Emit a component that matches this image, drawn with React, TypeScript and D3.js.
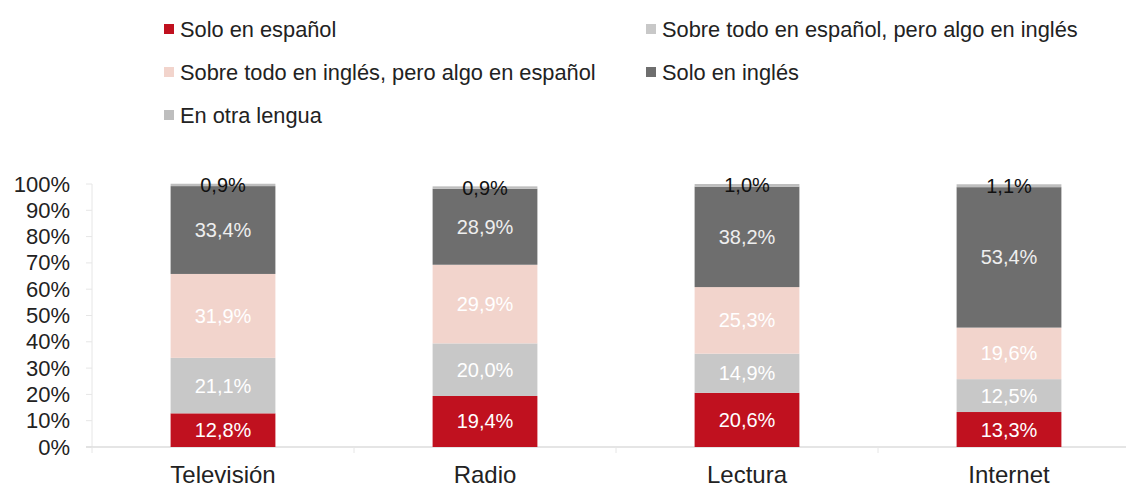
import * as d3 from "d3";

const categories = ["Televisión", "Radio", "Lectura", "Internet"];
const seriesNames = [
  "Solo en español",
  "Sobre todo en español, pero algo en inglés",
  "Sobre todo en inglés, pero algo en español",
  "Solo en inglés",
  "En otra lengua",
];
const soloEspanol = [12.8, 19.4, 20.6, 13.3];
const sobreEspanol = [21.1, 20.0, 14.9, 12.5];
const sobreIngles = [31.9, 29.9, 25.3, 19.6];
const soloIngles = [33.4, 28.9, 38.2, 53.4];
const otraLengua = [0.9, 0.9, 1.0, 1.1];
const yTicks = [0, 10, 20, 30, 40, 50, 60, 70, 80, 90, 100];

const colors = ["#C0111F", "#C8C8C8", "#F2D4CC", "#6E6E6E", "#BEBEBE"];
const labelColors = ["#fff", "#fff", "#fff", "#eee", "#111"];
const font = "'Liberation Sans', Arial, sans-serif";

// legend placement: [column x, row y] for each series
const legendCols = [164, 646];
const legendRows = [29, 72, 115];
const legendSlots = [
  [0, 0],
  [1, 0],
  [0, 1],
  [1, 1],
  [0, 2],
];

export default function App() {
  const width = 1126;
  const height = 487;
  const x0 = 92;
  const baseY = 447;

  const rows = categories.map((c, i) => ({
    cat: c,
    s0: soloEspanol[i],
    s1: sobreEspanol[i],
    s2: sobreIngles[i],
    s3: soloIngles[i],
    s4: otraLengua[i],
  }));
  const keys = ["s0", "s1", "s2", "s3", "s4"];
  const stacked = d3.stack<any>().keys(keys)(rows);

  const x = d3.scaleBand().domain(categories).range([x0, x0 + 262 * 4]).paddingInner(0.6).paddingOuter(0.3);
  const y = d3.scaleLinear().domain([0, 100]).range([baseY, 184]);

  const fmt = (v: number) => v.toFixed(1).replace(".", ",") + "%";

  return (
    <svg width={width} height={height} style={{ position: "absolute", left: 0, top: 0, background: "#fff" }} fontFamily={font}>
      {/* legend */}
      {seriesNames.map((name, i) => {
        const [c, r] = legendSlots[i];
        const lx = legendCols[c];
        const ly = legendRows[r];
        return (
          <g key={name}>
            <rect x={lx} y={ly - 5} width={10} height={10} fill={colors[i]} />
            <text x={lx + 16} y={ly} dominantBaseline="central" fontSize={21.8} fill="#222">
              {name}
            </text>
          </g>
        );
      })}

      {/* y axis */}
      <line x1={x0} x2={x0} y1={y(100)} y2={baseY} stroke="#e6e6e6" />
      {yTicks.map((t) => (
        <g key={t}>
          <line x1={x0 - 6} x2={x0} y1={y(t)} y2={y(t)} stroke="#e6e6e6" />
          <text x={70} y={y(t)} textAnchor="end" dominantBaseline="central" fontSize={22} fill="#222">
            {t}%
          </text>
        </g>
      ))}

      {/* baseline and category ticks */}
      <line x1={x0 - 6} x2={width} y1={baseY} y2={baseY} stroke="#dcdcdc" strokeWidth={1.5} />
      {categories.map((c) => {
        const step = x.step();
        const edge = (x(c) as number) - (step * x.paddingInner()) / 2;
        return <line key={c} x1={edge} x2={edge} y1={baseY} y2={baseY + 6} stroke="#e6e6e6" />;
      })}

      {/* bars */}
      {stacked.map((layer, si) => (
        <g key={si}>
          {layer.map((d) => {
            const cat = d.data.cat as string;
            const bx = x(cat) as number;
            const y1 = y(d[1]);
            const y0 = y(d[0]);
            return <rect key={cat} x={bx} y={y1} width={x.bandwidth()} height={y0 - y1} fill={colors[si]} />;
          })}
        </g>
      ))}

      {/* value labels */}
      {stacked.map((layer, si) => (
        <g key={"l" + si}>
          {layer.map((d) => {
            const cat = d.data.cat as string;
            const cx = (x(cat) as number) + x.bandwidth() / 2;
            const cy = y((d[0] + d[1]) / 2);
            return (
              <text key={cat} x={cx} y={cy} textAnchor="middle" dominantBaseline="central" fontSize={20} fill={labelColors[si]}>
                {fmt(d[1] - d[0])}
              </text>
            );
          })}
        </g>
      ))}

      {/* category labels */}
      {categories.map((c) => (
        <text key={c} x={(x(c) as number) + x.bandwidth() / 2} y={474} textAnchor="middle" dominantBaseline="central" fontSize={24} fill="#222">
          {c}
        </text>
      ))}
    </svg>
  );
}
